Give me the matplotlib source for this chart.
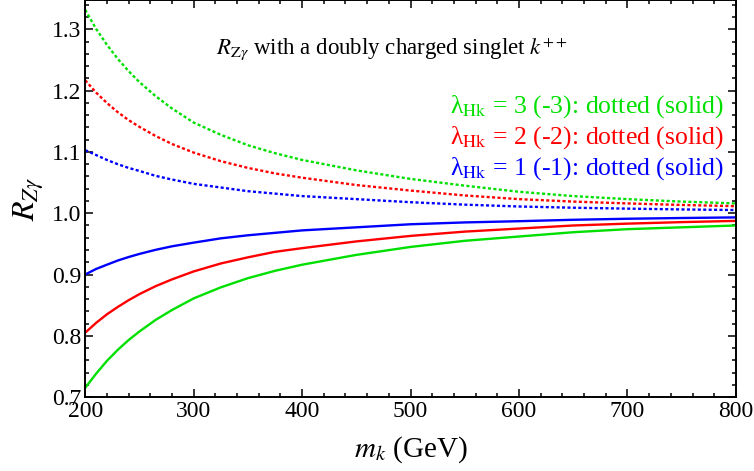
import matplotlib
matplotlib.use('Agg')
import matplotlib.pyplot as plt
from matplotlib.ticker import MultipleLocator, FormatStrFormatter

plt.rcParams['font.family'] = ['Liberation Serif', 'DejaVu Serif']
plt.rcParams['mathtext.fontset'] = 'stix'

# m_k in GeV
mk = [200, 210, 220, 230, 240, 250, 265, 280, 300, 325, 350, 375, 400,
      450, 500, 550, 600, 650, 700, 750, 800]

# lambda_Hk = +3, +2, +1 (dotted)
green_dot = [1.332, 1.301, 1.275, 1.252, 1.232, 1.214, 1.191, 1.171, 1.148, 1.128, 1.111, 1.098, 1.087,
             1.070, 1.056, 1.045, 1.035, 1.028, 1.023, 1.019, 1.016]
red_dot = [1.217, 1.197, 1.180, 1.165, 1.152, 1.141, 1.126, 1.113, 1.099, 1.085, 1.074, 1.065, 1.058,
           1.046, 1.037, 1.029, 1.023, 1.019, 1.016, 1.0135, 1.0115]
blue_dot = [1.103, 1.095, 1.087, 1.080, 1.074, 1.069, 1.061, 1.055, 1.048, 1.042, 1.036, 1.032, 1.028,
            1.023, 1.018, 1.014, 1.011, 1.009, 1.0075, 1.0062, 1.0052]

# lambda_Hk = -3, -2, -1 (solid)
green_sol = [0.715, 0.738, 0.759, 0.777, 0.793, 0.807, 0.826, 0.842, 0.861, 0.879, 0.894, 0.906, 0.916,
             0.932, 0.945, 0.955, 0.962, 0.969, 0.974, 0.977, 0.980]
red_sol = [0.805, 0.821, 0.835, 0.847, 0.858, 0.868, 0.881, 0.892, 0.905, 0.918, 0.928, 0.937, 0.943,
           0.954, 0.963, 0.970, 0.975, 0.980, 0.983, 0.9855, 0.9875]
blue_sol = [0.900, 0.909, 0.916, 0.9228, 0.9285, 0.9336, 0.9403, 0.946, 0.952, 0.959, 0.964, 0.968, 0.972,
            0.977, 0.982, 0.985, 0.987, 0.9893, 0.991, 0.9922, 0.9932]

legend_lines = [
    ('λ$_{\\mathrm{Hk}}$ = 3 (-3): dotted (solid)', '#00e000'),
    ('λ$_{\\mathrm{Hk}}$ = 2 (-2): dotted (solid)', '#ff0000'),
    ('λ$_{\\mathrm{Hk}}$ = 1 (-1): dotted (solid)', '#0000ff'),
]

fig = plt.figure(figsize=(7.54, 4.71), dpi=100)
ax = fig.add_axes([0.113, 0.157, 0.863, 0.843])

dots = (0, (1.3, 1.0))
lw = 1.7
ax.plot(mk, green_dot, color='#00e000', lw=lw, linestyle=dots)
ax.plot(mk, red_dot, color='#ff0000', lw=lw, linestyle=dots)
ax.plot(mk, blue_dot, color='#0000ff', lw=lw, linestyle=dots)
ax.plot(mk, green_sol, color='#00e000', lw=lw)
ax.plot(mk, red_sol, color='#ff0000', lw=lw)
ax.plot(mk, blue_sol, color='#0000ff', lw=lw)

ax.set_xlim(200, 800)
ax.set_ylim(0.7, 1.348)
ax.xaxis.set_major_locator(MultipleLocator(100))
ax.xaxis.set_minor_locator(MultipleLocator(20))
ax.yaxis.set_major_locator(MultipleLocator(0.1))
ax.yaxis.set_minor_locator(MultipleLocator(0.02))
ax.yaxis.set_major_formatter(FormatStrFormatter('%.1f'))

ax.tick_params(which='both', direction='in', top=True, right=True, labelsize=17, width=1.1)
ax.tick_params(which='major', length=6, pad=3)
ax.tick_params(which='minor', length=3)
for s in ax.spines.values():
    s.set_linewidth(1.4)

ax.set_xlabel(r'$m_k$ (GeV)', fontsize=21, labelpad=9)
ax.set_ylabel(r'$R_{Z\gamma}$', fontsize=23, labelpad=4)

ax.text(0.472, 0.878, r'$R_{\mathrm{Z}\gamma}$ with a doubly charged singlet $k^{++}$',
        transform=ax.transAxes, ha='center', va='center', fontsize=16.5)

for i, (txt, c) in enumerate(legend_lines):
    ax.text(0.982, 0.732 - i * 0.078, txt, color=c, transform=ax.transAxes,
            ha='right', va='center', fontsize=18.5)

fig.savefig('out.png', dpi=100)
